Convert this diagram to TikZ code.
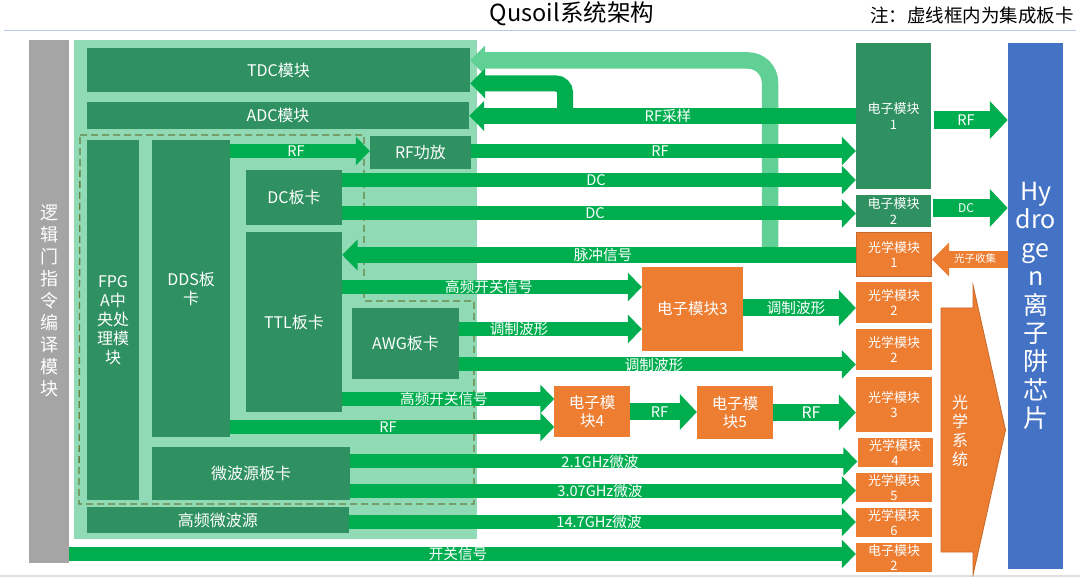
\documentclass[tikz,border=0pt]{standalone}
\usepackage{fontspec}
\setmainfont{Noto Sans CJK SC}
\usetikzlibrary{arrows.meta}
\definecolor{panelgreen}{HTML}{90DBB6}
\definecolor{blockgreen}{HTML}{2F9161}
\definecolor{siggreen}{HTML}{00AE50}
\definecolor{feedgreen}{HTML}{60D095}
\definecolor{blockorange}{HTML}{ED7D31}
\definecolor{edgeorange}{HTML}{C8682A}
\definecolor{chipblue}{HTML}{4472C4}
\definecolor{barcolor}{HTML}{A5A5A5}
\definecolor{dashcolor}{HTML}{66803F}
\definecolor{rulecolor}{HTML}{B7C8E8}
\tikzset{
  block/.style={fill=blockgreen, text=white, align=center, inner sep=0pt, font=\fontsize{16}{19}\selectfont},
  optic/.style={fill=blockorange, text=white, align=center, inner sep=0pt, font=\fontsize{13}{15.5}\selectfont},
  elec/.style={optic, font=\fontsize{15.5}{18}\selectfont},
  sig/.style={draw=siggreen, line width=14pt, -{Triangle[length=14pt,width=28pt]}},
  sigwide/.style={draw=siggreen, line width=17pt, -{Triangle[length=17pt,width=35pt]}},
  siglabel/.style={text=white, inner sep=0pt, font=\fontsize{14.6}{16}\selectfont}
}
\begin{document}
\begin{tikzpicture}[x=1pt, y=-1pt]
   \useasboundingbox (0,0) rectangle (1080,577);
   \fill [white] (0,0) rectangle (1080,577);

   \node [text=black, inner sep=0pt, font=\fontsize{23.5}{25}\selectfont] (title) at (572,14) {Qusoil系统架构};
   \node [text=black, inner sep=0pt, anchor=east, font=\fontsize{18.5}{20}\selectfont] (note) at (1074,16) {注：虚线框内为集成板卡};
   \draw [rulecolor, line width=0.8pt] (4,30) -- (1076,30);
   \draw [black!12, line width=1.5pt] (0,576.2) -- (1080,576.2);

   \node [fill=barcolor, text=white, align=center, inner sep=0pt, minimum width=40, minimum height=523.5, font=\fontsize{18}{22}\selectfont] (logic) at (49,301.3) {逻\\辑\\门\\指\\令\\编\\译\\模\\块};
   \node [fill=panelgreen, minimum width=402.6, minimum height=499, inner sep=0pt] (panel) at (275.3,289.5) {};

   \node [block, minimum width=383, minimum height=44] (tdc) at (278.5,70) {TDC模块};
   \node [block, minimum width=382, minimum height=27] (adc) at (278,115.5) {ADC模块};
   \node [block, minimum width=52, minimum height=360] (fpga) at (113,320) {FPG\\A中\\央处\\理模\\块};
   \node [block, minimum width=77.5, minimum height=297] (dds) at (191.2,288.5) {DDS板\\卡};
   \node [block, minimum width=101, minimum height=33] (rfamp) at (420.5,152.5) {RF功放};
   \node [block, minimum width=96, minimum height=55] (dc) at (294,197.5) {DC板卡};
   \node [block, minimum width=96, minimum height=180] (ttl) at (294,322) {TTL板卡};
   \node [block, minimum width=107, minimum height=71] (awg) at (405.5,343.5) {AWG板卡};
   \node [block, minimum width=197.5, minimum height=53] (mw) at (251.2,473.5) {微波源板卡};
   \node [block, minimum width=261.5, minimum height=26] (hfmw) at (217.8,520) {高频微波源};

   \draw [dashcolor, line width=1.3pt, dash pattern=on 7pt off 4pt] (80,135) -- (364,135) -- (364,301) -- (474,301) -- (474,504) -- (79,504) -- cycle;

   \node [block, font=\fontsize{13}{15.5}\selectfont, minimum width=75, minimum height=146] (emod1) at (893.5,116) {电子模块\\1};
   \node [block, font=\fontsize{13}{15.5}\selectfont, minimum width=75, minimum height=32] (emod2) at (893.5,211) {电子模块\\2};
   \node [optic, draw=edgeorange, line width=0.8pt, minimum width=75.5, minimum height=44.5] (omod1) at (894,254.5) {光学模块\\1};
   \node [optic, minimum width=76, minimum height=41] (omod2) at (894,302.5) {光学模块\\2};
   \node [optic, minimum width=76, minimum height=41] (omodb) at (894,349.5) {光学模块\\2};
   \node [optic, minimum width=76, minimum height=55] (omod3) at (894,404.5) {光学模块\\3};
   \node [optic, minimum width=75, minimum height=29] (omod4) at (895,452.5) {光学模块\\4};
   \node [optic, minimum width=76, minimum height=29] (omod5) at (894,487.5) {光学模块\\5};
   \node [optic, minimum width=76, minimum height=29] (omod6) at (894,522.5) {光学模块\\6};
   \node [optic, minimum width=76, minimum height=29] (emodc) at (894,557.5) {电子模块\\2};

   \node [elec, minimum width=101, minimum height=84] (emod3) at (692.5,309) {电子模块3};
   \node [elec, minimum width=75.5, minimum height=51] (emod4) at (592.2,411.5) {电子模\\块4};
   \node [elec, minimum width=76, minimum height=53] (emod5) at (735,412.5) {电子模\\块5};

   \node [fill=chipblue, text=white, align=center, inner sep=0pt, minimum width=55.5, minimum height=526, font=\fontsize{25}{28.4}\selectfont] (chip) at (1035.7,306) {Hy\\dro\\ge\\n\\离\\子\\阱\\芯\\片};

   \draw [fill=blockorange, draw=edgeorange, line width=0.8pt] (941,308) -- (973,308) -- (973,285) -- (1005.5,430) -- (973,575) -- (973,552) -- (941,552) -- cycle;
   \node [text=white, align=center, inner sep=0pt, font=\fontsize{16}{19}\selectfont] (opsys) at (960,431) {光\\学\\系\\统};

   \draw [feedgreen, line width=16.5pt, rounded corners=22pt, -{Triangle[length=15pt,width=29pt]}] (770,255) -- (770,60.5) -- (tdc.east |- 0,60.5);
   \draw [siggreen, line width=16pt, rounded corners=9pt, -{Triangle[length=15pt,width=29pt]}] (565,116) -- (565,83.5) -- (tdc.east |- 0,83.5);
   \draw [sig, line width=16pt, -{Triangle[length=15pt,width=29pt]}] (emod1.west |- 0,116) -- (adc.east |- 0,116);
   \draw [sig] (dds.east |- 0,151) -- (rfamp.west |- 0,151);
   \draw [sig] (rfamp.east |- 0,151) -- (emod1.west |- 0,151);
   \draw [sig] (dc.east |- 0,180) -- (emod1.west |- 0,180);
   \draw [sig] (dc.east |- 0,213.5) -- (emod2.west |- 0,213.5);
   \draw [sig, line width=16pt, -{Triangle[length=15.5pt,width=30pt]}] (omod1.west |- 0,255) -- (ttl.east |- 0,255);
   \draw [sig] (ttl.east |- 0,287) -- (emod3.west |- 0,287);
   \draw [sig] (awg.east |- 0,329) -- (emod3.west |- 0,329);
   \draw [sig] (awg.east |- 0,364.5) -- (omodb.west |- 0,364.5);
   \draw [sigwide] (emod3.east |- 0,308) -- (omod2.west |- 0,308);
   \draw [sig] (ttl.east |- 0,399) -- (emod4.west |- 0,399);
   \draw [sig] (dds.east |- 0,427) -- (emod4.west |- 0,427);
   \draw [sigwide] (emod4.east |- 0,412) -- (emod5.west |- 0,412);
   \draw [sigwide] (emod5.east |- 0,412.5) -- (omod3.west |- 0,412.5);
   \draw [sig] (mw.east |- 0,461.5) -- (omod4.west |- 0,461.5);
   \draw [sig] (mw.east |- 0,490.5) -- (omod5.west |- 0,490.5);
   \draw [sig] (hfmw.east |- 0,522) -- (omod6.west |- 0,522);
   \draw [sig] (logic.east |- 0,554) -- (emodc.west |- 0,554);
   \draw [sig, line width=18pt, -{Triangle[length=18pt,width=37pt]}] (emod1.east |- 0,120) ++(2.5,0) -- (chip.west |- 0,120);
   \draw [sig, line width=18pt, -{Triangle[length=18pt,width=37pt]}] (emod2.east |- 0,208) ++(2,0) -- (chip.west |- 0,208);
   \draw [blockorange, line width=17pt, -{Triangle[length=17pt,width=33pt]}] (chip.west |- 0,259.5) -- (omod1.east |- 0,259.5);

   \node [siglabel] (lrfsample) at (668,116) {RF采样};
   \node [siglabel] (lrfa) at (296,151) {RF};
   \node [siglabel] (lrfb) at (660,151) {RF};
   \node [siglabel] (ldca) at (596,180) {DC};
   \node [siglabel] (ldcb) at (595,213.5) {DC};
   \node [siglabel] (lpulse) at (603,255) {脉冲信号};
   \node [siglabel] (lswa) at (489,287) {高频开关信号};
   \node [siglabel] (lwavea) at (519,329) {调制波形};
   \node [siglabel] (lwaveb) at (654,365) {调制波形};
   \node [siglabel] (lwavec) at (796,308) {调制波形};
   \node [siglabel] (lswb) at (444,399) {高频开关信号};
   \node [siglabel] (lrfc) at (388,427) {RF};
   \node [siglabel] (lrfd) at (659.5,412) {RF};
   \node [siglabel, font=\fontsize{16}{16}\selectfont] (lrfe) at (811,412.5) {RF};
   \node [siglabel] (lmwa) at (600,462) {2.1GHz微波};
   \node [siglabel] (lmwb) at (600,490.5) {3.07GHz微波};
   \node [siglabel] (lmwc) at (599,522) {14.7GHz微波};
   \node [siglabel] (lswc) at (458,554) {开关信号};
   \node [siglabel] (lrff) at (966,120) {RF};
   \node [siglabel, font=\fontsize{12}{14}\selectfont] (ldcc) at (966,208) {DC};
   \node [siglabel, font=\fontsize{10.5}{12}\selectfont] (lphoton) at (975,259) {光子收集};
\end{tikzpicture}
\end{document}
